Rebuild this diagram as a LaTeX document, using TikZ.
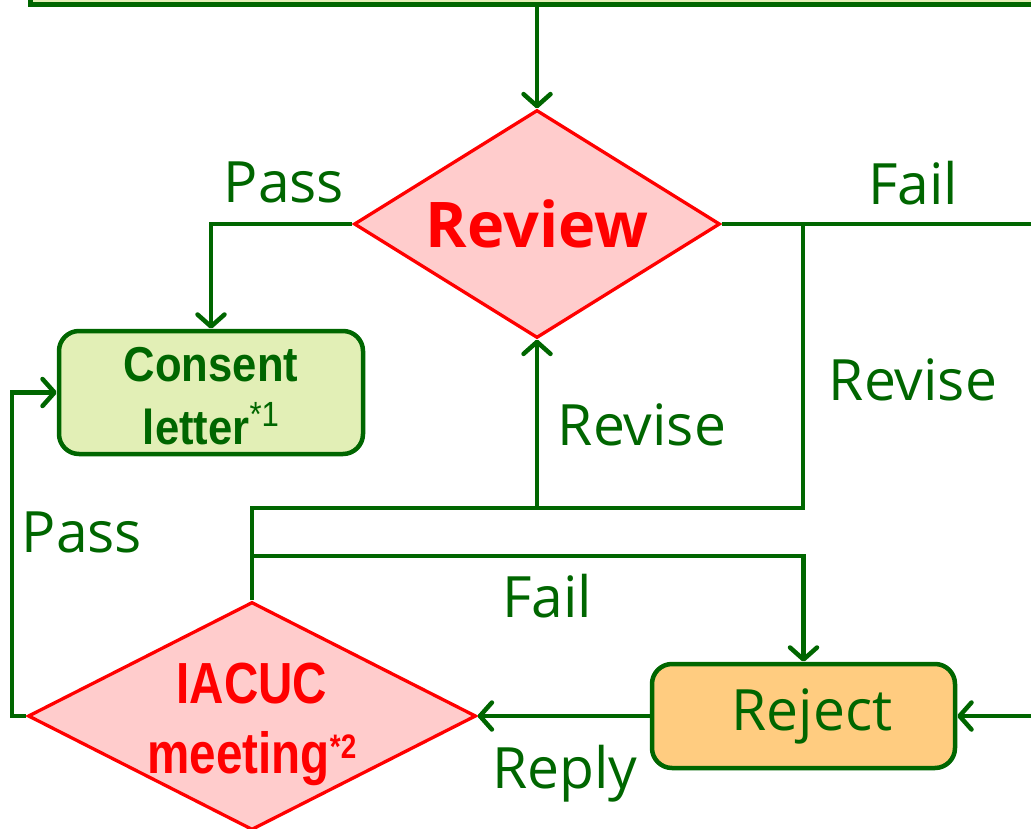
\documentclass[tikz,border=0pt]{standalone}
\usepackage{fontspec}
\setmainfont{Open Sans}
\newfontfamily\narrowfont{Liberation Sans}[FakeStretch=0.82]
\newfontfamily\consentfont{Liberation Sans}[FakeStretch=0.89]
\usetikzlibrary{shapes.geometric,arrows.meta}
\definecolor{dkgreen}{HTML}{006600}
\definecolor{ltgreen}{HTML}{E2EFB6}
\definecolor{pinkfill}{HTML}{FFCCCC}
\definecolor{orangefill}{HTML}{FFCC80}
\definecolor{redline}{HTML}{FF0000}
\begin{document}
\begin{tikzpicture}[x=1pt,y=-1pt,
  conn/.style={draw=dkgreen, line width=4.5pt},
  arr/.style={conn, -{Straight Barb[length=12pt,width=27pt,round]}},
  decision/.style={diamond, draw=redline, line width=3.3pt, fill=pinkfill, inner sep=0pt},
  dectext/.style={text=redline, align=center, inner sep=0pt},
  procbox/.style={rectangle, rounded corners=20pt, draw=dkgreen, line width=4.5pt, inner sep=0pt, text=dkgreen, align=center},
  lbl/.style={anchor=base, text=dkgreen, inner sep=0pt, font=\fontsize{57}{68}\selectfont}]
\useasboundingbox (0,0) rectangle (1031,829);
\clip (0,0) rectangle (1031,829);

% partially visible box at the top
\node[rectangle, draw=dkgreen, line width=5pt, fill=ltgreen, minimum width=1070pt, minimum height=65pt, inner sep=0pt] (prev) at (565,-28) {};

% decisions
\node[decision, minimum width=366pt, minimum height=228pt] (review) at (537,224) {};
\node[dectext, font=\bfseries\fontsize{63}{70}\selectfont] (reviewtext) at (review.center) {Review};

\node[decision, minimum width=448pt, minimum height=228pt] (iacuc) at (252,716) {};
\node[dectext, font=\narrowfont\bfseries\fontsize{58}{70}\selectfont] (iacuctext) at (iacuc.center)
  {\rule{0pt}{58pt}IACUC\\meeting\raisebox{15pt}{\fontsize{34}{34}\selectfont *2}};

% boxes
\node[procbox, fill=ltgreen, minimum width=304pt, minimum height=123pt,
      font=\consentfont\bfseries\fontsize{49}{63}\selectfont] (consent) at (211,392.5)
  {\rule{0pt}{42pt}Consent\\letter\raisebox{18pt}{\mdseries\fontsize{35}{35}\selectfont *1}};
\node[procbox, fill=orangefill, minimum width=303pt, minimum height=104pt,
      font=\fontsize{57}{68}\selectfont] (reject) at (803.5,716) {\hspace*{17pt}Reject};

% junction and free-end coordinates
\coordinate (j1) at (803,224);
\coordinate (j2) at (803,508);
\coordinate (f1) at (252,556);
\coordinate (pl) at (12,0);
\coordinate (rfail) at (1040,224);
\coordinate (rin) at (1040,716);

% connectors
\draw[arr] (prev.south -| review.north) -- (review.north);
\draw[arr] (review.west) -- (consent.north |- review.west) -- (consent.north);
\draw[conn] (review.east) -- (rfail);
\draw[conn] (iacuc.north) -- (iacuc.north |- j2) -- (j2) -- (j1);
\draw[arr] (review.south |- j2) -- (review.south);
\draw[arr] (f1) -- (f1 -| reject.north) -- (reject.north);
\draw[arr] (iacuc.west) -- (pl |- iacuc.west) -- (pl |- consent.west) -- (consent.west);
\draw[arr] (reject.west) -- (iacuc.east);
\draw[arr] (rin) -- (reject.east);

% labels
\node[lbl] (passtop) at (284,203) {Pass};
\node[lbl] (failtop) at (913,205) {Fail};
\node[lbl] (reviseR) at (913,400) {Revise};
\node[lbl] (reviseM) at (642,445) {Revise};
\node[lbl] (passL) at (82,552) {Pass};
\node[lbl] (failM) at (547,617) {Fail};
\node[lbl] (reply) at (565,788) {Reply};
\end{tikzpicture}
\end{document}
